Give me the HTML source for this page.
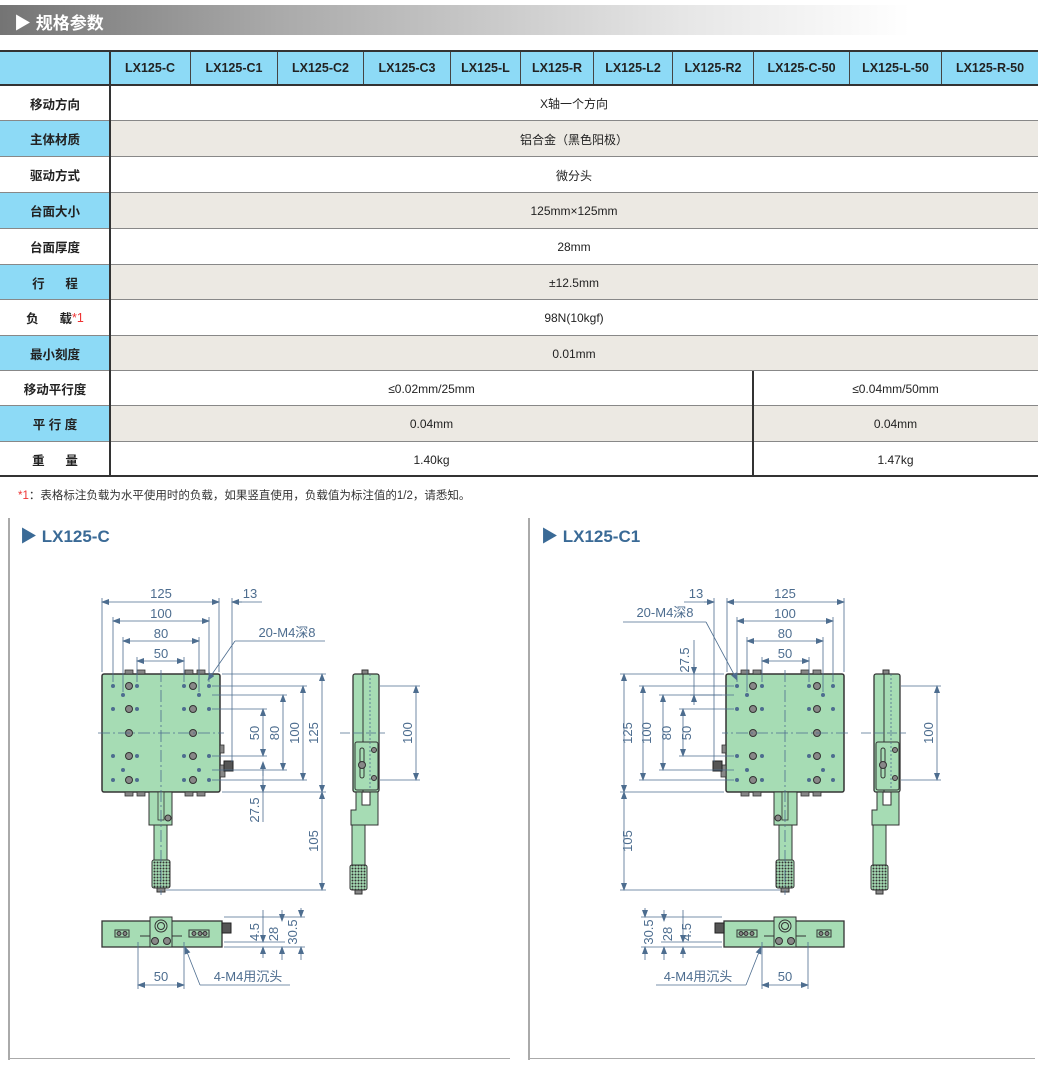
<!DOCTYPE html>
<html><head><meta charset="utf-8"><style>
body{margin:0;width:1041px;height:1065px;background:#fff;position:relative;overflow:hidden;font-family:"Liberation Sans","Noto Sans CJK SC",sans-serif;}
.a{position:absolute;box-sizing:border-box;}
.c{display:flex;align-items:center;justify-content:center;font-size:12px;color:#222;}
.h{font-weight:bold;font-size:12.5px;color:#222;}
.l{font-weight:bold;font-size:12.5px;}
</style></head><body>
<div class="a" style="left:0;top:5px;width:910px;height:30px;background:linear-gradient(90deg,#747474 0%,#a9a9a9 30%,#e6e6e6 75%,#fff 100%);"></div>
<div class="a" style="left:14px;top:9px;color:#fff;font-weight:bold;font-size:17px;">▶ 规格参数</div>

<div class="a" style="left:0;top:50px;width:1038px;height:36px;background:#8ddaf6;border-top:2px solid #333;border-bottom:2px solid #333;"></div>
<div id="hdr"></div>
<div id="rows"></div>
<div class="a" style="left:109px;top:50px;width:2px;height:427px;background:#333;"></div>

<div class="a" style="left:18px;top:487px;font-size:11.5px;color:#333;"><span style="color:#e33">*1</span>：表格标注负载为水平使用时的负载，如果竖直使用，负载值为标注值的1/2，请悉知。</div>

<div class="a" style="left:8px;top:518px;width:2px;height:542px;background:#aaa;"></div>
<div class="a" style="left:8px;top:1058px;width:502px;height:1px;background:#aaa;"></div>
<div class="a" style="left:528px;top:518px;width:2px;height:542px;background:#aaa;"></div>
<div class="a" style="left:528px;top:1058px;width:507px;height:1px;background:#aaa;"></div>
<div class="a" style="left:20px;top:522px;color:#3a6a96;font-weight:bold;font-size:17px;">▶ LX125-C</div>
<div class="a" style="left:541px;top:522px;color:#3a6a96;font-weight:bold;font-size:17px;">▶ LX125-C1</div>

<svg class="a" style="left:0;top:0" width="1041" height="1065" viewBox="0 0 1041 1065">
<defs>
<pattern id="kn" width="3" height="3" patternUnits="userSpaceOnUse"><rect width="3" height="3" fill="#a6dcb4"/><circle cx="1.5" cy="1.5" r="1" fill="#333"/></pattern>
<marker id="ar" markerWidth="8" markerHeight="6" refX="7" refY="3" orient="auto-start-reverse" markerUnits="userSpaceOnUse"><path d="M0,0 L8,3 L0,6z" fill="#4d6d8f"/></marker>
<g id="main">
 <rect x="102" y="674" width="118" height="118" rx="2" fill="#a6dcb4" stroke="#333" stroke-width="1.5"/>
 <g fill="#888" stroke="#333" stroke-width="0.8">
  <rect x="125" y="670" width="8" height="4"/><rect x="137" y="670" width="8" height="4"/><rect x="185" y="670" width="8" height="4"/><rect x="197" y="670" width="8" height="4"/>
  <rect x="125" y="792" width="8" height="4"/><rect x="137" y="792" width="8" height="4"/><rect x="185" y="792" width="8" height="4"/><rect x="197" y="792" width="8" height="4"/>
  <rect x="220" y="745" width="4" height="8"/><rect x="220" y="765" width="5" height="12"/>
 </g>
 <rect x="224" y="761" width="9" height="10" fill="#555" stroke="#222"/>
 <g fill="#888" stroke="#333" stroke-width="1">
  <circle cx="129" cy="686" r="3.5"/><circle cx="129" cy="709" r="3.5"/><circle cx="129" cy="733" r="3.5"/><circle cx="129" cy="756" r="3.5"/><circle cx="129" cy="780" r="3.5"/>
  <circle cx="193" cy="686" r="3.5"/><circle cx="193" cy="709" r="3.5"/><circle cx="193" cy="733" r="3.5"/><circle cx="193" cy="756" r="3.5"/><circle cx="193" cy="780" r="3.5"/>
 </g>
 <g fill="#4d6d8f">
  <circle cx="113" cy="686" r="2"/><circle cx="137" cy="686" r="2"/><circle cx="184" cy="686" r="2"/><circle cx="209" cy="686" r="2"/>
  <circle cx="113" cy="709" r="2"/><circle cx="137" cy="709" r="2"/><circle cx="184" cy="709" r="2"/><circle cx="209" cy="709" r="2"/>
  <circle cx="113" cy="756" r="2"/><circle cx="137" cy="756" r="2"/><circle cx="184" cy="756" r="2"/><circle cx="209" cy="756" r="2"/>
  <circle cx="113" cy="780" r="2"/><circle cx="137" cy="780" r="2"/><circle cx="184" cy="780" r="2"/><circle cx="209" cy="780" r="2"/>
  <circle cx="123" cy="695" r="2"/><circle cx="199" cy="695" r="2"/><circle cx="123" cy="770" r="2"/><circle cx="199" cy="770" r="2"/>
 </g>
 <rect x="149" y="792" width="23" height="33" fill="#a6dcb4" stroke="#333"/>
 <rect x="158" y="792" width="6" height="28" fill="#a6dcb4" stroke="#333" stroke-width="0.8"/>
 <circle cx="168" cy="818" r="3" fill="#888" stroke="#333"/>
 <rect x="154" y="825" width="13" height="36" fill="#a6dcb4" stroke="#333"/>
 <rect x="152" y="860" width="18" height="28" rx="2" fill="url(#kn)" stroke="#333"/>
 <rect x="157" y="888" width="8" height="4" fill="#888" stroke="#333"/>
 <g stroke="#4d6d8f" stroke-width="0.8" stroke-dasharray="12,3,2,3" fill="none">
  <line x1="161" y1="670" x2="161" y2="895"/><line x1="98" y1="733" x2="224" y2="733"/>
 </g>
 <rect x="102" y="921" width="120" height="26" fill="#a6dcb4" stroke="#333" stroke-width="1.3"/>
 <rect x="150" y="917" width="22" height="30" fill="#a6dcb4" stroke="#333"/>
 <circle cx="161" cy="926" r="6" fill="#a6dcb4" stroke="#333"/><circle cx="161" cy="926" r="3.5" fill="none" stroke="#333"/>
 <circle cx="155" cy="941" r="3.5" fill="#888" stroke="#333"/><circle cx="167" cy="941" r="3.5" fill="#888" stroke="#333"/>
 <rect x="115" y="930" width="14" height="7" fill="#a6dcb4" stroke="#333"/><circle cx="119" cy="933.5" r="2" fill="#888" stroke="#333"/><circle cx="125" cy="933.5" r="2" fill="#888" stroke="#333"/>
 <rect x="189" y="930" width="20" height="7" fill="#a6dcb4" stroke="#333"/><circle cx="194" cy="933.5" r="2" fill="#888" stroke="#333"/><circle cx="200" cy="933.5" r="2" fill="#888" stroke="#333"/><circle cx="205" cy="933.5" r="2" fill="#888" stroke="#333"/>
 <line x1="140" y1="936" x2="150" y2="936" stroke="#333"/><line x1="172" y1="936" x2="182" y2="936" stroke="#333"/>
 <rect x="222" y="923" width="9" height="10" fill="#555" stroke="#222"/>
 <g stroke="#4d6d8f" stroke-width="0.8" fill="none">
  <line x1="102" y1="598" x2="102" y2="672"/><line x1="219" y1="598" x2="219" y2="672"/><line x1="232" y1="598" x2="232" y2="762"/><line x1="232" y1="602" x2="262" y2="602"/>
  <line x1="113" y1="617" x2="113" y2="682"/><line x1="209" y1="617" x2="209" y2="682"/>
  <line x1="123" y1="637" x2="123" y2="692"/><line x1="199" y1="637" x2="199" y2="692"/>
  <line x1="137" y1="657" x2="137" y2="682"/><line x1="184" y1="657" x2="184" y2="682"/>
  <line x1="102" y1="602" x2="219" y2="602" marker-start="url(#ar)" marker-end="url(#ar)"/>
  <line x1="242" y1="602" x2="232" y2="602" marker-end="url(#ar)"/>
  <line x1="113" y1="621" x2="209" y2="621" marker-start="url(#ar)" marker-end="url(#ar)"/>
  <line x1="123" y1="641" x2="199" y2="641" marker-start="url(#ar)" marker-end="url(#ar)"/>
  <line x1="137" y1="661" x2="184" y2="661" marker-start="url(#ar)" marker-end="url(#ar)"/>
  <line x1="212" y1="686" x2="307" y2="686"/><line x1="212" y1="695" x2="287" y2="695"/><line x1="212" y1="709" x2="267" y2="709"/>
  <line x1="212" y1="756" x2="267" y2="756"/><line x1="212" y1="770" x2="287" y2="770"/><line x1="212" y1="780" x2="307" y2="780"/>
  <line x1="222" y1="674" x2="326" y2="674"/><line x1="222" y1="792" x2="326" y2="792"/><line x1="166" y1="890" x2="326" y2="890"/>
  <line x1="263" y1="709" x2="263" y2="756" marker-start="url(#ar)" marker-end="url(#ar)"/>
  <line x1="283" y1="695" x2="283" y2="770" marker-start="url(#ar)" marker-end="url(#ar)"/>
  <line x1="303" y1="686" x2="303" y2="780" marker-start="url(#ar)" marker-end="url(#ar)"/>
  <line x1="322" y1="674" x2="322" y2="792" marker-start="url(#ar)" marker-end="url(#ar)"/>
  <line x1="322" y1="792" x2="322" y2="890" marker-start="url(#ar)" marker-end="url(#ar)"/>
  <line x1="224" y1="917" x2="305" y2="917"/><line x1="224" y1="942" x2="285" y2="942"/><line x1="224" y1="947" x2="305" y2="947"/>
  <line x1="263" y1="910" x2="263" y2="942" marker-end="url(#ar)"/><line x1="263" y1="958" x2="263" y2="947" marker-end="url(#ar)"/>
  <line x1="282" y1="910" x2="282" y2="921" marker-end="url(#ar)"/><line x1="282" y1="960" x2="282" y2="947" marker-end="url(#ar)"/>
  <line x1="301" y1="908" x2="301" y2="917" marker-end="url(#ar)"/><line x1="301" y1="960" x2="301" y2="947" marker-end="url(#ar)"/>
  <line x1="138" y1="942" x2="138" y2="989"/><line x1="184" y1="942" x2="184" y2="989"/>
  <line x1="138" y1="985" x2="184" y2="985" marker-start="url(#ar)" marker-end="url(#ar)"/>
  <line x1="290" y1="985" x2="200" y2="985"/><line x1="200" y1="985" x2="185" y2="947" marker-end="url(#ar)"/>
 </g>
</g>
<g id="side">
 <rect x="353" y="674" width="26" height="118" rx="2" fill="#a6dcb4" stroke="#333" stroke-width="1.3"/>
 <line x1="363" y1="674" x2="363" y2="792" stroke="#333"/>
 <rect x="362" y="670" width="6" height="4" fill="#888" stroke="#333"/>
 <rect x="355" y="742" width="23" height="48" rx="2" fill="#a6dcb4" stroke="#333"/>
 <rect x="360" y="748" width="4" height="30" rx="2" fill="none" stroke="#333"/>
 <circle cx="362" cy="765" r="3.5" fill="#888" stroke="#333"/>
 <circle cx="374" cy="750" r="2.5" fill="#888" stroke="#333"/><circle cx="374" cy="778" r="2.5" fill="#888" stroke="#333"/>
 <path d="M356,792 V810 H351 V825 H378 V792 H370 V805 H362 V792Z" fill="#a6dcb4" stroke="#333"/>
 <rect x="352" y="825" width="13" height="42" fill="#a6dcb4" stroke="#333"/>
 <rect x="350" y="865" width="17" height="25" rx="2" fill="url(#kn)" stroke="#333"/>
 <rect x="355" y="890" width="7" height="4" fill="#888" stroke="#333"/>
 <g stroke="#4d6d8f" stroke-width="0.8" fill="none">
  <line x1="370" y1="674" x2="370" y2="790" stroke-dasharray="2,2"/>
  <line x1="340" y1="733" x2="385" y2="733" stroke-dasharray="10,3"/>
  <line x1="380" y1="686" x2="420" y2="686"/><line x1="380" y1="780" x2="420" y2="780"/>
  <line x1="416" y1="686" x2="416" y2="780" marker-start="url(#ar)" marker-end="url(#ar)"/>
 </g>
</g>
</defs>
<use href="#main"/>
<use href="#main" transform="translate(946,0) scale(-1,1)"/>
<use href="#side"/>
<use href="#side" transform="translate(521,0)"/>
<g stroke="#4d6d8f" stroke-width="0.8" fill="none">
 <line x1="235" y1="641" x2="325" y2="641"/><line x1="235" y1="641" x2="208" y2="680" marker-end="url(#ar)"/>
 <line x1="263" y1="764" x2="263" y2="822"/><line x1="263" y1="776" x2="263" y2="762" marker-end="url(#ar)"/><line x1="263" y1="782" x2="263" y2="792" marker-end="url(#ar)"/>
 <line x1="623" y1="622" x2="706" y2="622"/><line x1="706" y1="622" x2="737" y2="680" marker-end="url(#ar)"/>
 <line x1="694" y1="640" x2="694" y2="702"/><line x1="694" y1="664" x2="694" y2="674" marker-end="url(#ar)"/><line x1="694" y1="705" x2="694" y2="695" marker-end="url(#ar)"/>
 <line x1="690" y1="695" x2="722" y2="695"/>
</g>
<g fill="#4d6d8f" font-family="Liberation Sans,Noto Sans CJK SC,sans-serif" font-size="13" text-anchor="middle">
 <text x="161" y="598">125</text><text x="250" y="598">13</text><text x="161" y="618">100</text><text x="161" y="638">80</text><text x="161" y="658">50</text>
 <text x="287" y="637">20-M4深8</text>
 <text transform="translate(259,733) rotate(-90)">50</text><text transform="translate(279,733) rotate(-90)">80</text><text transform="translate(299,733) rotate(-90)">100</text><text transform="translate(318,733) rotate(-90)">125</text>
 <text transform="translate(259,810) rotate(-90)">27.5</text><text transform="translate(318,841) rotate(-90)">105</text>
 <text transform="translate(412,733) rotate(-90)">100</text>
 <text transform="translate(259,932) rotate(-90)">4.5</text><text transform="translate(278,934) rotate(-90)">28</text><text transform="translate(297,932) rotate(-90)">30.5</text>
 <text x="161" y="981">50</text><text x="248" y="981">4-M4用沉头</text>
 <text x="785" y="598">125</text><text x="696" y="598">13</text><text x="785" y="618">100</text><text x="785" y="638">80</text><text x="785" y="658">50</text>
 <text x="665" y="617">20-M4深8</text>
 <text transform="translate(689,660) rotate(-90)">27.5</text>
 <text transform="translate(691,733) rotate(-90)">50</text><text transform="translate(671,733) rotate(-90)">80</text><text transform="translate(651,733) rotate(-90)">100</text><text transform="translate(632,733) rotate(-90)">125</text>
 <text transform="translate(632,841) rotate(-90)">105</text>
 <text transform="translate(933,733) rotate(-90)">100</text>
 <text transform="translate(691,932) rotate(-90)">4.5</text><text transform="translate(672,934) rotate(-90)">28</text><text transform="translate(653,932) rotate(-90)">30.5</text>
 <text x="785" y="981">50</text><text x="698" y="981">4-M4用沉头</text>
</g>
</svg>

<script>
var xs=[110,190,277,363,450,520,593,672,753,849,941,1038];
var nm=["LX125-C","LX125-C1","LX125-C2","LX125-C3","LX125-L","LX125-R","LX125-L2","LX125-R2","LX125-C-50","LX125-L-50","LX125-R-50"];
var h="";
for(var i=0;i<11;i++){h+='<div class="a c h" style="left:'+xs[i]+'px;top:52px;width:'+(xs[i+1]-xs[i])+'px;height:32px;'+(i>0?'border-left:1.5px solid #444;':'')+'">'+nm[i]+'</div>';}
document.getElementById("hdr").innerHTML=h;
var ys=[86,121,157,193,229,265,300,336,371,406,442,477];
var lb=["移动方向","主体材质","驱动方式","台面大小","台面厚度","行&nbsp;&nbsp;&nbsp;&nbsp;&nbsp;&nbsp;程","负&nbsp;&nbsp;&nbsp;&nbsp;&nbsp;&nbsp;载 <span style=\"color:#e33;font-weight:normal\">*1</span>","最小刻度","移动平行度","平 行 度","重&nbsp;&nbsp;&nbsp;&nbsp;&nbsp;&nbsp;量"];
var v=["X轴一个方向","铝合金（黑色阳极）","微分头","125mm×125mm","28mm","±12.5mm","98N(10kgf)","0.01mm",null,null,null];
var s="";
for(var r=0;r<11;r++){var t=ys[r],hh=ys[r+1]-ys[r],alt=r%2==1;
s+='<div class="a" style="left:0;top:'+t+'px;width:1038px;height:'+hh+'px;background:'+(alt?'#ece9e3':'#fff')+';border-bottom:'+(r==10?'2px solid #333':'1.5px solid #888')+';"></div>';
s+='<div class="a c l" style="left:0;top:'+t+'px;width:110px;height:'+(hh-1)+'px;'+(alt?'background:#8ddaf6;':'')+'">'+lb[r]+'</div>';
if(v[r])s+='<div class="a c" style="left:110px;top:'+t+'px;width:928px;height:'+hh+'px;">'+v[r]+'</div>';}
var sp=[["≤0.02mm/25mm","≤0.04mm/50mm"],["0.04mm","0.04mm"],["1.40kg","1.47kg"]];
for(var k=0;k<3;k++){var t=ys[8+k],hh=ys[9+k]-t;
s+='<div class="a c" style="left:110px;top:'+t+'px;width:643px;height:'+hh+'px;">'+sp[k][0]+'</div>';
s+='<div class="a c" style="left:753px;top:'+t+'px;width:285px;height:'+hh+'px;">'+sp[k][1]+'</div>';}
s+='<div class="a" style="left:752px;top:371px;width:1.5px;height:106px;background:#333;"></div>';
document.getElementById("rows").innerHTML=s;
</script>
</body></html>
